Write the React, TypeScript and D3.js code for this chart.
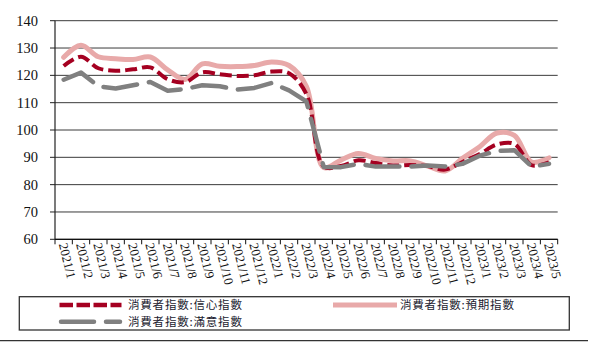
import React from "react";
import * as d3 from "d3";

const categories = [
  "2021/1","2021/2","2021/3","2021/4","2021/5","2021/6","2021/7","2021/8","2021/9","2021/10","2021/11","2021/12",
  "2022/1","2022/2","2022/3","2022/4","2022/5","2022/6","2022/7","2022/8","2022/9","2022/10","2022/11","2022/12",
  "2023/1","2023/2","2023/3","2023/4","2023/5",
];
const confidence = [123.4,126.8,122.6,121.7,122.2,122.9,118.6,117.5,121.1,120.4,119.8,120.0,121.4,120.8,113.2,86.7,86.8,88.9,87.9,87.0,87.2,86.8,85.5,88.3,91.2,94.7,94.9,87.1,88.2];
const expectation = [126.6,131.0,126.8,126.1,125.8,126.7,122.0,118.5,124.2,123.3,123.2,123.6,124.9,123.6,116.0,86.3,89.0,91.4,89.6,88.7,88.7,86.8,85.0,89.6,93.9,98.9,98.0,88.3,89.8];
const satisfaction = [118.4,121.0,116.0,115.2,116.4,117.6,114.4,115.0,116.4,116.0,114.8,115.4,117.2,114.5,110.5,86.5,86.4,87.6,86.6,86.6,86.6,87.0,86.6,87.6,90.6,92.3,92.6,86.6,87.6];
const yTicks = [60,70,80,90,100,110,120,130,140];
const seriesNames = ["消費者指數:信心指數","消費者指數:預期指數","消費者指數:滿意指數"];

const L = 55, R = 557.7, T = 20.7, B = 239.3;

export default function App() {
  const x = d3.scaleBand<string>().domain(categories).range([L, R]).padding(0);
  const y = d3.scaleLinear().domain([60, 140]).range([B, T]);
  const cx = (i: number) => (x(categories[i]) as number) + x.bandwidth() / 2;

  const smooth = d3.line<number>().x((_, i) => cx(i)).y((d) => y(d)).curve(d3.curveCatmullRom.alpha(0.5));
  const straight = d3.line<number>().x((_, i) => cx(i)).y((d) => y(d)).curve(d3.curveLinear);

  const boundaries = d3.range(categories.length + 1).map((i) => L + i * x.bandwidth());
  const serif = "'Liberation Serif', 'Times New Roman', serif";
  const cjk = "'Noto Sans CJK TC', 'Noto Sans CJK SC', sans-serif";

  const pink = "#E8A9A9";
  const red = "#A50021";
  const gray = "#808080";

  return (
    <svg width={599} height={346} style={{ position: "absolute", left: 0, top: 0, background: "#fff" }}>
      {yTicks.map((t) => (
        <line key={"g" + t} x1={L} x2={R} y1={y(t)} y2={y(t)} stroke="#3a3a3a" strokeWidth={1} />
      ))}
      <line x1={L} x2={L} y1={T} y2={B} stroke="#222" strokeWidth={1.2} />
      {yTicks.map((t) => (
        <g key={"yt" + t}>
          <line x1={L - 5} x2={L} y1={y(t)} y2={y(t)} stroke="#222" strokeWidth={1} />
          <text x={38} y={y(t)} dy="0.35em" textAnchor="end" fontFamily={serif} fontSize={14.5} fill="#111">
            {t}
          </text>
        </g>
      ))}
      <line x1={L} x2={R} y1={B} y2={B} stroke="#111" strokeWidth={1.2} />
      {boundaries.map((bx, i) => (
        <line key={"xt" + i} x1={bx} x2={bx} y1={B} y2={B + 5} stroke="#111" strokeWidth={1} />
      ))}
      {categories.map((c, i) => (
        <text
          key={"xl" + c}
          transform={`translate(${cx(i) - 5},${B + 5}) rotate(76)`}
          fontFamily={serif}
          fontSize={13}
          fill="#111"
          textAnchor="start"
        >
          {c}
        </text>
      ))}
      <path d={smooth(expectation) || ""} fill="none" stroke={pink} strokeWidth={5} strokeLinejoin="round" strokeLinecap="round" />
      <path d={smooth(confidence) || ""} fill="none" stroke={red} strokeWidth={4} strokeDasharray="12 5" />
      <path d={straight(satisfaction) || ""} fill="none" stroke={gray} strokeWidth={4.5} strokeDasharray="34 12" strokeLinecap="round" strokeLinejoin="round" />

      <rect x={19.3} y={296.7} width={550} height={33.3} fill="none" stroke="#333" strokeWidth={1.3} />
      <line x1={0} x2={588} y1={340.7} y2={340.7} stroke="#333" strokeWidth={1.3} />
      <line x1={59.5} x2={121.5} y1={305} y2={305} stroke={red} strokeWidth={4.5} strokeDasharray="13.5 3.5" />
      <text x={128} y={305} dy="0.36em" fontFamily={cjk} fontSize={11.5} letterSpacing={0.8} fill="#1a1a2e">{seriesNames[0]}</text>
      <line x1={333} x2={397} y1={305} y2={305} stroke={pink} strokeWidth={5} />
      <text x={400} y={305} dy="0.36em" fontFamily={cjk} fontSize={11.5} letterSpacing={0.8} fill="#1a1a2e">{seriesNames[1]}</text>
      <line x1={61} x2={120} y1={321.7} y2={321.7} stroke={gray} strokeWidth={4.5} strokeDasharray="33 12" strokeLinecap="round" />
      <text x={128} y={321.7} dy="0.36em" fontFamily={cjk} fontSize={11.5} letterSpacing={0.8} fill="#1a1a2e">{seriesNames[2]}</text>
    </svg>
  );
}
